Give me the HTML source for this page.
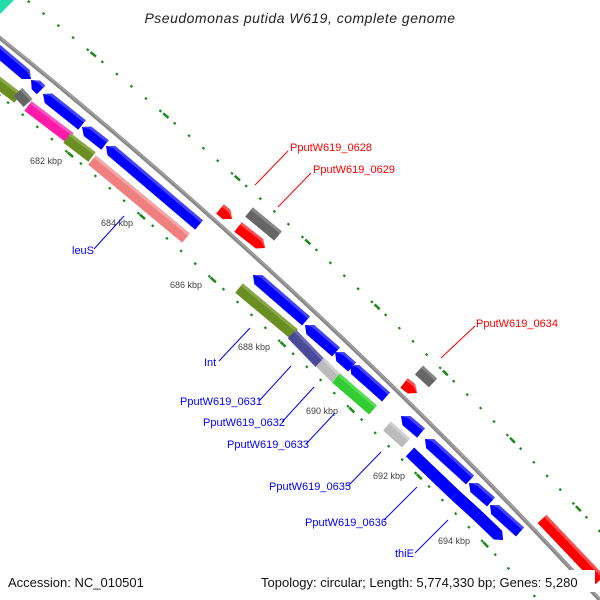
<!DOCTYPE html>
<html><head><meta charset="utf-8"><style>
html,body{margin:0;padding:0;background:#fff;width:600px;height:600px;overflow:hidden}
svg{display:block}
text{font-family:"Liberation Sans","DejaVu Sans",sans-serif}
</style></head><body>
<svg id="s" width="600" height="600" viewBox="0 0 600 600" xmlns="http://www.w3.org/2000/svg" style="overflow:hidden">
<polygon points="0,0 14,0 0,14" fill="#22ddaa"/>
<g id="dots" fill="none" stroke="#1a8a1a">
<path d="M-20,22 Q323,296 620,622" transform="translate(33,-33)" stroke-width="2.2" stroke-dasharray="2.5 16.5"/>
<path d="M-20,22 Q323,296 620,622" transform="translate(33,-33)" stroke-width="2.5" stroke-dasharray="7 88" stroke-dashoffset="-5"/>
<path d="M-20,22 Q323,296 620,622" transform="translate(-32,32)" stroke-width="2.2" stroke-dasharray="2.5 16.5"/>
<path d="M-20,22 Q323,296 620,622" transform="translate(-32,32)" stroke-width="2.5" stroke-dasharray="7 88" stroke-dashoffset="-60"/>
</g>
<path d="M-20,22 Q323,296 620,622" fill="none" stroke="#888" stroke-width="4"/>
<path d="M-20,21 Q323,295 620,621" fill="none" stroke="#aaa" stroke-width="1"/>
<g id="genes"></g>
<text x="300" y="23" font-size="14" font-style="italic" text-anchor="middle" fill="#222" letter-spacing="0.5">Pseudomonas putida W619, complete genome</text>
<g font-size="9" fill="#444">
<text x="30" y="164">682 kbp</text><text x="101" y="226">684 kbp</text><text x="170" y="288">686 kbp</text>
<text x="238" y="350">688 kbp</text><text x="306" y="414">690 kbp</text><text x="373" y="479">692 kbp</text><text x="438" y="544">694 kbp</text>
</g>
<g stroke="#0000ff" stroke-width="1">
<line x1="94" y1="249" x2="124" y2="216"/><line x1="219" y1="361" x2="250" y2="328"/>
<line x1="259" y1="401" x2="291" y2="366"/><line x1="282" y1="422" x2="314" y2="387"/>
<line x1="306" y1="444" x2="335" y2="413"/><line x1="348" y1="486" x2="381" y2="452"/>
<line x1="384" y1="520" x2="417" y2="487"/><line x1="415" y1="553" x2="448" y2="520"/>
</g>
<g stroke="#ff0000" stroke-width="1">
<line x1="288" y1="151" x2="255" y2="185"/><line x1="311" y1="173" x2="278" y2="207"/><line x1="475" y1="326" x2="441" y2="358"/>
</g>
<g font-size="11" fill="#0000ff">
<text x="72" y="254">leuS</text><text x="204" y="366">Int</text>
<text x="180" y="405">PputW619_0631</text><text x="203" y="426">PputW619_0632</text>
<text x="227" y="448">PputW619_0633</text><text x="269" y="490">PputW619_0635</text>
<text x="305" y="526">PputW619_0636</text><text x="395" y="557">thiE</text>
</g>
<g font-size="11" fill="#ff0000">
<text x="290" y="151">PputW619_0628</text><text x="313" y="173">PputW619_0629</text><text x="476" y="327">PputW619_0634</text>
</g>
<rect x="255" y="570" width="340" height="22" fill="#fff"/>
<g font-size="13" fill="#111">
<text x="8" y="587">Accession: NC_010501</text>
<text x="261" y="587">Topology: circular; Length: 5,774,330 bp; Genes: 5,280</text>
</g>
</svg>
<script>
var G=document.getElementById('genes'),NS='http://www.w3.org/2000/svg';
function g(x1,y1,x2,y2,c,lc,ar){
 var dx=x2-x1,dy=y2-y1,L=Math.hypot(dx,dy),ux=dx/L,uy=dy/L,nx=-uy,ny=ux,w=6,a=7;
 function P(t,s){return [x1+ux*t+nx*s,y1+uy*t+ny*s];}
 var pts,q;
 if(ar==1){pts=[P(0,-w),P(L-a,-w),P(L,0),P(L-a,w),P(0,w)];q=[P(0,-w),P(L-a,-w),P(L,0),P(L-a,-w+3),P(0,-w+3)];}
 else if(ar==-1){pts=[P(0,0),P(a,-w),P(L,-w),P(L,w),P(a,w)];q=[P(0,0),P(a,-w),P(L,-w),P(L,-w+3),P(a,-w+3)];}
 else{pts=[P(0,-w),P(L,-w),P(L,w),P(0,w)];q=[P(0,-w),P(L,-w),P(L,-w+3),P(0,-w+3)];}
 var p=document.createElementNS(NS,'polygon');p.setAttribute('points',pts.map(function(z){return z.join(',')}).join(' '));p.setAttribute('fill',c);G.appendChild(p);
 var p2=document.createElementNS(NS,'polygon');
 p2.setAttribute('points',q.map(function(z){return z.join(',')}).join(' '));p2.setAttribute('fill',lc);G.appendChild(p2);
}
var B='#0000ff',BL='#4444ff';
g(-8,46,31,79,B,BL,1);
g(31,80,41,90,B,BL,-1);
g(-8,78,18,98,'#6b8e23','#8aa84a',0);
g(18,92,28,103,'#666','#888',0);
g(43,94,82,125,B,BL,-1);
g(28,106,70,138,'#ff1aaa','#ff55c0',0);
g(82,127,105,145,B,BL,-1);
g(67,138,92,157,'#6b8e23','#8aa84a',0);
g(106,146,199,225,B,BL,-1);
g(92,160,186,238,'#f08080','#f4a6a6',0);
g(220,209,232,219,'#ff0000','#ff5050',1);
g(249,212,278,236,'#666','#888',0);
g(238,227,265,248,'#ff0000','#ff5050',1);
g(253,275,306,321,B,BL,-1);
g(239,288,294,334,'#6b8e23','#8aa84a',0);
g(305,325,336,352,B,BL,-1);
g(292,334,320,363,'#4a4a9a','#6a6ab0',0);
g(335,352,352,367,B,BL,-1);
g(320,362,336,378,'#bbb','#d0d0d0',0);
g(350,365,386,397,B,BL,-1);
g(336,378,373,410,'#33cc33','#55dd55',0);
g(404,383,417,393,'#ff0000','#ff5050',1);
g(419,370,433,383,'#666','#888',0);
g(401,416,421,433,B,BL,-1);
g(387,426,406,443,'#bbb','#d0d0d0',0);
g(425,439,470,480,B,BL,-1);
g(410,452,455,495,B,B,0);
g(455,495,477,515,B,B,0);
g(477,515,503,540,B,B,1);
g(469,483,491,502,B,BL,-1);
g(490,505,520,532,B,BL,-1);
g(542,519,600,580,'#ff0000','#ff5050',0);
</script>
</body></html>
